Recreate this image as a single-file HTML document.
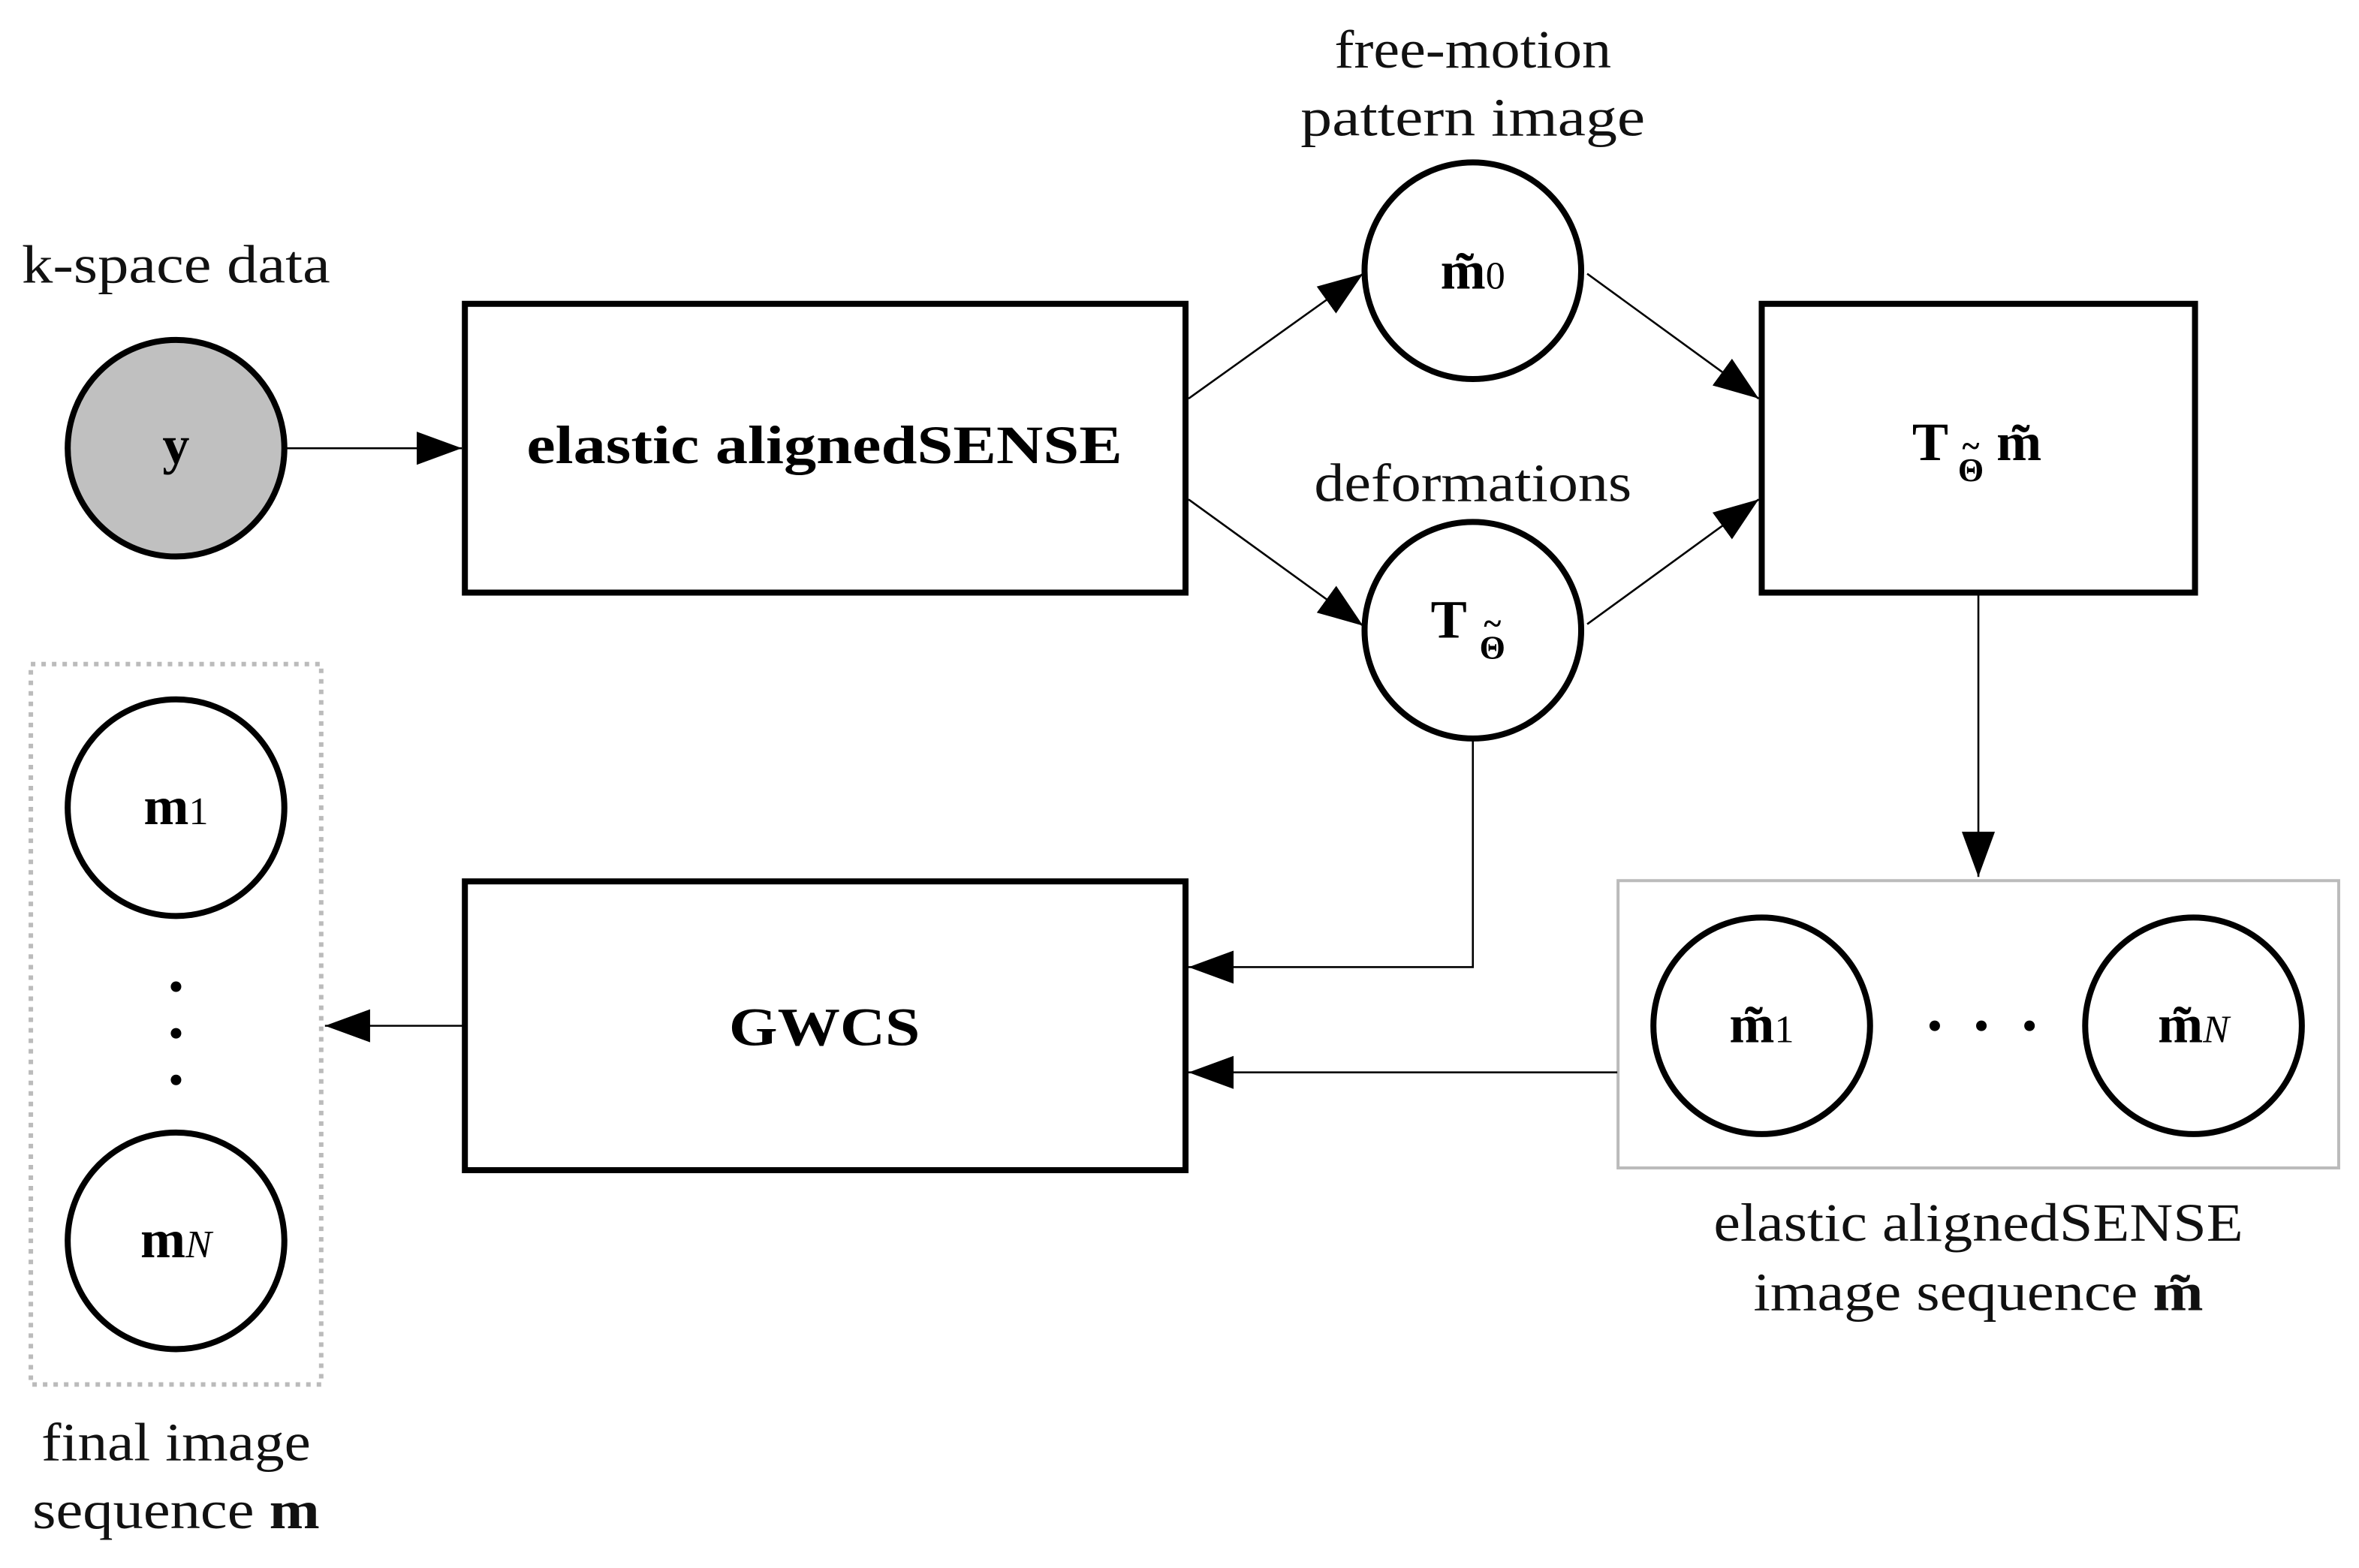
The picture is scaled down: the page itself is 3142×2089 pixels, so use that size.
<!DOCTYPE html>
<html><head><meta charset="utf-8"><style>html,body{margin:0;padding:0;background:#fff}svg{display:block}</style></head>
<body>
<svg width="3142" height="2089" viewBox="0 0 1568 1042.5" xmlns="http://www.w3.org/2000/svg" font-family="Liberation Serif, serif" font-size="36">
<defs>
<marker id="a" markerUnits="userSpaceOnUse" markerWidth="32" markerHeight="24" refX="30" refY="12" orient="auto">
<path d="M0,1 L30,12 L0,23 Z" fill="#000"/>
</marker>
</defs>
<rect width="1568" height="1042.5" fill="#fff"/>
<g text-anchor="middle" fill="#111" lengthAdjust="spacingAndGlyphs">
<text x="117" y="188" textLength="205" lengthAdjust="spacingAndGlyphs">k-space data</text>
<text x="979" y="45" textLength="184" lengthAdjust="spacingAndGlyphs">free-motion</text>
<text x="979" y="90" textLength="229" lengthAdjust="spacingAndGlyphs">pattern image</text>
<text x="979" y="333" textLength="211" lengthAdjust="spacingAndGlyphs">deformations</text>
<text x="1315" y="825" textLength="352" lengthAdjust="spacingAndGlyphs">elastic alignedSENSE</text>
<text x="1315" y="871" textLength="299" lengthAdjust="spacingAndGlyphs">image sequence <tspan font-weight="bold">m̃</tspan></text>
<text x="117" y="971" textLength="179" lengthAdjust="spacingAndGlyphs">final image</text>
<text x="117" y="1016" textLength="191" lengthAdjust="spacingAndGlyphs">sequence <tspan font-weight="bold">m</tspan></text>
</g>
<!-- nodes -->
<circle cx="117" cy="298" r="72" fill="#c0c0c0" stroke="#000" stroke-width="4"/>
<text x="117" y="308" text-anchor="middle" font-weight="bold">y</text>
<rect x="309" y="202" width="479" height="192" fill="none" stroke="#000" stroke-width="4"/>
<text x="548" y="308" text-anchor="middle" font-weight="bold" textLength="396" lengthAdjust="spacingAndGlyphs">elastic alignedSENSE</text>
<circle cx="979" cy="180" r="72" fill="none" stroke="#000" stroke-width="4"/>
<text x="979" y="192" text-anchor="middle"><tspan font-weight="bold">m̃</tspan><tspan font-size="26">0</tspan></text>
<circle cx="979" cy="419" r="72" fill="none" stroke="#000" stroke-width="4"/>
<text x="963" y="424" text-anchor="middle" font-weight="bold">T</text>
<text x="992" y="438" text-anchor="middle" font-weight="bold" font-size="22">Θ</text>
<text x="992" y="422" text-anchor="middle" font-weight="bold" font-size="22">~</text>
<rect x="1171" y="202" width="288" height="192" fill="none" stroke="#000" stroke-width="4"/>
<text x="1283" y="306" text-anchor="middle" font-weight="bold">T</text>
<text x="1310" y="320" text-anchor="middle" font-weight="bold" font-size="22">Θ</text>
<text x="1310" y="304" text-anchor="middle" font-weight="bold" font-size="22">~</text>
<text x="1342" y="306" text-anchor="middle" font-weight="bold">m̃</text>
<rect x="1075.5" y="585.5" width="479" height="191" fill="none" stroke="#bbb" stroke-width="2"/>
<circle cx="1171" cy="682" r="72" fill="none" stroke="#000" stroke-width="4"/>
<text x="1171" y="693" text-anchor="middle"><tspan font-weight="bold">m̃</tspan><tspan font-size="26">1</tspan></text>
<circle cx="1458" cy="682" r="72" fill="none" stroke="#000" stroke-width="4"/>
<text x="1458" y="693" text-anchor="middle"><tspan font-weight="bold">m̃</tspan><tspan font-size="26" font-style="italic">N</tspan></text>
<circle cx="1286" cy="682" r="3.5"/><circle cx="1317" cy="682" r="3.5"/><circle cx="1349" cy="682" r="3.5"/>
<rect x="309" y="586" width="479" height="192" fill="none" stroke="#000" stroke-width="4"/>
<text x="548" y="695" text-anchor="middle" font-weight="bold" textLength="127" lengthAdjust="spacingAndGlyphs">GWCS</text>
<rect x="20.5" y="441.5" width="193" height="479" fill="none" stroke="#bbb" stroke-width="3" stroke-dasharray="3,4"/>
<circle cx="117" cy="537" r="72" fill="none" stroke="#000" stroke-width="4"/>
<text x="117" y="548" text-anchor="middle"><tspan font-weight="bold">m</tspan><tspan font-size="26">1</tspan></text>
<circle cx="117" cy="825" r="72" fill="none" stroke="#000" stroke-width="4"/>
<text x="117" y="836" text-anchor="middle"><tspan font-weight="bold">m</tspan><tspan font-size="26" font-style="italic">N</tspan></text>
<circle cx="117" cy="656" r="3.5"/><circle cx="117" cy="687" r="3.5"/><circle cx="117" cy="718" r="3.5"/>
<!-- edges -->
<g stroke="#000" stroke-width="1.3" fill="none" marker-end="url(#a)">
<line x1="190" y1="298" x2="307" y2="298"/>
<line x1="790" y1="265" x2="906" y2="182"/>
<line x1="790" y1="332" x2="906" y2="416"/>
<line x1="1055" y1="182" x2="1169" y2="265"/>
<line x1="1055" y1="415" x2="1169" y2="332"/>
<line x1="1315" y1="396" x2="1315" y2="583"/>
<polyline points="979,492 979,643 790,643"/>
<line x1="1075" y1="713" x2="790" y2="713"/>
<line x1="308" y1="682" x2="216" y2="682"/>
</g>
</svg>
</body></html>
